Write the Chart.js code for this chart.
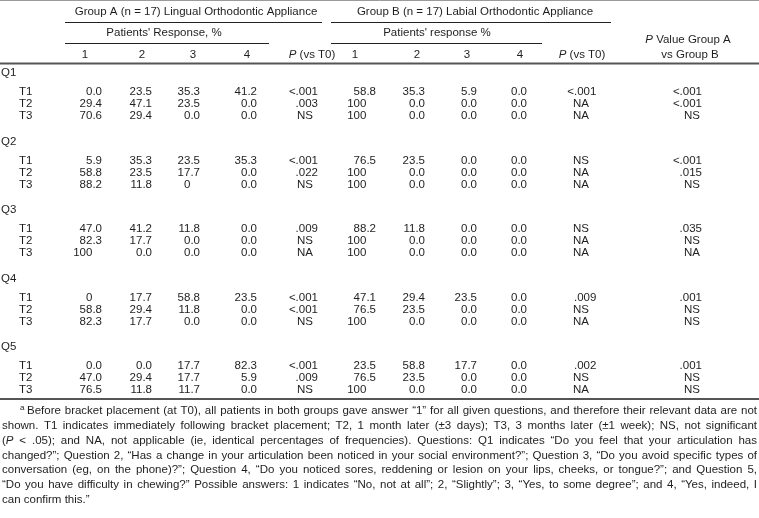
<!DOCTYPE html>
<html>
<head>
<meta charset="utf-8">
<script src="https://cdn.jsdelivr.net/npm/chart.js@4.4.1/dist/chart.umd.min.js"></script>
<style>
html, body { margin: 0; padding: 0; background: #fff; }
#wrap { width: 759px; height: 518px; }
</style>
</head>
<body>
<div id="wrap"><canvas id="tabla"></canvas></div>
<script>
// datos de la tabla (filas: Q1..Q5 x T1..T3)
const preguntas = ['Q1', 'Q2', 'Q3', 'Q4', 'Q5'];
const tiempos = ['T1', 'T2', 'T3'];
const respuestas = ['1', '2', '3', '4'];

const grupoA1 = ['0.0', '29.4', '70.6', '5.9', '58.8', '88.2', '47.0', '82.3', '100', '0', '58.8', '82.3', '0.0', '47.0', '76.5'];
const grupoA2 = ['23.5', '47.1', '29.4', '35.3', '23.5', '11.8', '41.2', '17.7', '0.0', '17.7', '29.4', '17.7', '0.0', '29.4', '11.8'];
const grupoA3 = ['35.3', '23.5', '0.0', '23.5', '17.7', '0', '11.8', '0.0', '0.0', '58.8', '11.8', '0.0', '17.7', '17.7', '11.7'];
const grupoA4 = ['41.2', '0.0', '0.0', '35.3', '0.0', '0.0', '0.0', '0.0', '0.0', '23.5', '0.0', '0.0', '82.3', '5.9', '0.0'];
const grupoAP = ['<.001', '.003', 'NS', '<.001', '.022', 'NS', '.009', 'NS', 'NA', '<.001', '<.001', 'NS', '<.001', '.009', 'NS'];

const grupoB1 = ['58.8', '100', '100', '76.5', '100', '100', '88.2', '100', '100', '47.1', '76.5', '100', '23.5', '76.5', '100'];
const grupoB2 = ['35.3', '0.0', '0.0', '23.5', '0.0', '0.0', '11.8', '0.0', '0.0', '29.4', '23.5', '0.0', '58.8', '23.5', '0.0'];
const grupoB3 = ['5.9', '0.0', '0.0', '0.0', '0.0', '0.0', '0.0', '0.0', '0.0', '23.5', '0.0', '0.0', '17.7', '0.0', '0.0'];
const grupoB4 = ['0.0', '0.0', '0.0', '0.0', '0.0', '0.0', '0.0', '0.0', '0.0', '0.0', '0.0', '0.0', '0.0', '0.0', '0.0'];
const grupoBP = ['<.001', 'NA', 'NA', 'NS', 'NA', 'NA', 'NS', 'NA', 'NA', '.009', 'NS', 'NA', '.002', 'NS', 'NA'];

const pAvsB = ['<.001', '<.001', 'NS', '<.001', '.015', 'NS', '.035', 'NS', 'NA', '.001', 'NS', 'NS', '.001', 'NS', 'NS'];

const tituloA = 'Group A (n = 17) Lingual Orthodontic Appliance';
const tituloB = 'Group B (n = 17) Labial Orthodontic Appliance';
const subA = "Patients' Response, %";
const subB = "Patients' response %";
const cabP = '_P_ (vs T0)';
const cabAB = ['_P_ Value Group A', 'vs Group B'];

const nota = [
  'Before bracket placement (at T0), all patients in both groups gave answer “1” for all given questions, and therefore their relevant data are not',
  'shown. T1 indicates immediately following bracket placement; T2, 1 month later (±3 days); T3, 3 months later (±1 week); NS, not significant',
  '(_P_ < .05); and NA, not applicable (ie, identical percentages of frequencies). Questions: Q1 indicates “Do you feel that your articulation has',
  'changed?”; Question 2, “Has a change in your articulation been noticed in your social environment?”; Question 3, “Do you avoid specific types of',
  'conversation (eg, on the phone)?”; Question 4, “Do you noticed sores, reddening or lesion on your lips, cheeks, or tongue?”; and Question 5,',
  '“Do you have difficulty in chewing?” Possible answers: 1 indicates “No, not at all”; 2, “Slightly”; 3, “Yes, to some degree”; and 4, “Yes, indeed, I',
  'can confirm this.”'
];

// maquetacion (unidades de los ejes)
const TAM = 11.5;
const FUENTE = '"Liberation Sans", Arial, Helvetica, sans-serif';
const COLOR = '#1e1e1e';
const yPregunta0 = 73, pasoPregunta = 68.5, yPrimerT = 19, pasoT = 12;

function filaY(i) {
  const g = Math.floor(i / 3), t = i % 3;
  return yPregunta0 + g * pasoPregunta + yPrimerT + t * pasoT;
}

const columnas = [
  { datos: grupoA1, x: 102, tipo: 'num', cab: respuestas[0], xCab: 85 },
  { datos: grupoA2, x: 152, tipo: 'num', cab: respuestas[1], xCab: 142 },
  { datos: grupoA3, x: 200, tipo: 'num', cab: respuestas[2], xCab: 193 },
  { datos: grupoA4, x: 257, tipo: 'num', cab: respuestas[3], xCab: 247 },
  { datos: grupoAP, x: 318, tipo: 'pDer', centro: 305, cab: cabP, xCab: 312 },
  { datos: grupoB1, x: 376, tipo: 'num', cab: respuestas[0], xCab: 355 },
  { datos: grupoB2, x: 425, tipo: 'num', cab: respuestas[1], xCab: 417 },
  { datos: grupoB3, x: 477, tipo: 'num', cab: respuestas[2], xCab: 467 },
  { datos: grupoB4, x: 527, tipo: 'num', cab: respuestas[3], xCab: 520 },
  { datos: grupoBP, x: 574, tipo: 'pDec', centro: 581, cab: cabP, xCab: 582 },
  { datos: pAvsB, x: 702, tipo: 'pDer', centro: 692, cab: cabAB[1], xCab: 690 }
];

function fuente(ital, tam) {
  return (ital ? 'italic ' : '') + (tam || TAM) + 'px ' + FUENTE;
}

// texto con partes en cursiva marcadas con _..._
function anchoRico(ctx, txt, tam) {
  let w = 0;
  txt.split('_').forEach((s, k) => {
    ctx.font = fuente(k % 2 == 1, tam);
    w += ctx.measureText(s).width;
  });
  return w;
}

function textoRico(ctx, txt, x, y, alinear, tam) {
  const w = anchoRico(ctx, txt, tam);
  let px = x;
  if (alinear == 'center') px = x - w / 2;
  if (alinear == 'right') px = x - w;
  ctx.textAlign = 'left';
  ctx.textBaseline = 'middle';
  txt.split('_').forEach((s, k) => {
    ctx.font = fuente(k % 2 == 1, tam);
    ctx.fillText(s, px, y);
    px += ctx.measureText(s).width;
  });
}

function lineaJustificada(ctx, txt, x0, x1, y, justificar) {
  const palabras = txt.split(' ');
  const anchos = palabras.map(p => anchoRico(ctx, p));
  const total = anchos.reduce((a, b) => a + b, 0);
  let hueco = anchoRico(ctx, ' ');
  if (justificar && palabras.length > 1) hueco = (x1 - x0 - total) / (palabras.length - 1);
  let px = x0;
  palabras.forEach((p, k) => {
    textoRico(ctx, p, px, y, 'left');
    px += anchos[k] + hueco;
  });
}

const dibujarTabla = {
  id: 'dibujarTabla',
  afterDatasetsDraw(chart) {
    const ctx = chart.ctx;
    const xs = chart.scales.x, ys = chart.scales.y;
    const X = v => xs.getPixelForValue(v);
    const Y = v => ys.getPixelForValue(v);
    ctx.save();
    ctx.fillStyle = COLOR;

    function regla(x0, x1, y, grosor, color) {
      ctx.beginPath();
      ctx.lineWidth = grosor;
      ctx.strokeStyle = color;
      ctx.moveTo(X(x0), Y(y));
      ctx.lineTo(X(x1), Y(y));
      ctx.stroke();
    }

    // cabecera
    regla(0, 759, 0.5, 1, '#9a9a9a');
    textoRico(ctx, tituloA, X(196), Y(12), 'center');
    textoRico(ctx, tituloB, X(475), Y(12), 'center');
    regla(65, 322, 22.5, 1, '#222');
    regla(331, 611, 22.5, 1, '#222');
    textoRico(ctx, subA, X(164), Y(33), 'center');
    textoRico(ctx, subB, X(437), Y(33), 'center');
    regla(65, 269, 43.5, 1, '#222');
    regla(331, 542, 43.5, 1, '#222');
    textoRico(ctx, cabAB[0], X(688), Y(40), 'center');
    columnas.forEach(c => textoRico(ctx, c.cab, X(c.xCab), Y(55), 'center'));
    regla(0, 759, 63.5, 2, '#555');

    // etiquetas de filas
    preguntas.forEach((q, g) => {
      textoRico(ctx, q, X(1), Y(yPregunta0 + g * pasoPregunta), 'left');
      tiempos.forEach((t, k) => textoRico(ctx, t, X(19), Y(filaY(g * 3 + k)), 'left'));
    });

    // celdas, en la posicion de cada punto del dataset
    columnas.forEach((c, d) => {
      const meta = chart.getDatasetMeta(d);
      meta.data.forEach((el, i) => {
        const v = c.datos[i];
        ctx.font = fuente(false);
        if (c.tipo == 'num') {
          if (v.includes('.')) textoRico(ctx, v, el.x, el.y, 'right');
          else textoRico(ctx, v, el.x - ctx.measureText('.0').width, el.y, 'right');
        } else if (v == 'NS' || v == 'NA') {
          textoRico(ctx, v, X(c.centro), el.y, 'center');
        } else if (c.tipo == 'pDer') {
          textoRico(ctx, v, el.x, el.y, 'right');
        } else {
          const antes = v.split('.')[0];
          textoRico(ctx, v, el.x - ctx.measureText(antes).width, el.y, 'left');
        }
      });
    });

    const yFin = filaY(14) + 9;
    regla(0, 759, yFin, 2, '#555');

    // nota al pie
    const yNota = yFin + 12, pasoNota = 14.8;
    textoRico(ctx, 'a', X(20), Y(yNota - 3), 'left', 8);
    nota.forEach((linea, k) => {
      const x0 = k == 0 ? 27 : 2;
      lineaJustificada(ctx, linea, X(x0), X(757), Y(yNota + k * pasoNota), k < nota.length - 1);
    });
    ctx.restore();
  }
};

const ctx = document.getElementById('tabla').getContext('2d');
const tabla = new Chart(ctx, {
  type: 'scatter',
  data: {
    datasets: columnas.map((c, d) => ({
      label: 'col' + d,
      data: c.datos.map((v, i) => ({ x: c.x, y: filaY(i) })),
      pointRadius: 0,
      pointHoverRadius: 0
    }))
  },
  options: {
    responsive: true,
    maintainAspectRatio: false,
    animation: false,
    layout: { padding: 0 },
    plugins: { legend: { display: false }, tooltip: { enabled: false } },
    scales: {
      x: { type: 'linear', min: 0, max: 759, display: false },
      y: { type: 'linear', min: 0, max: 518, reverse: true, display: false }
    }
  },
  plugins: [dibujarTabla]
});
</script>
</body>
</html>
